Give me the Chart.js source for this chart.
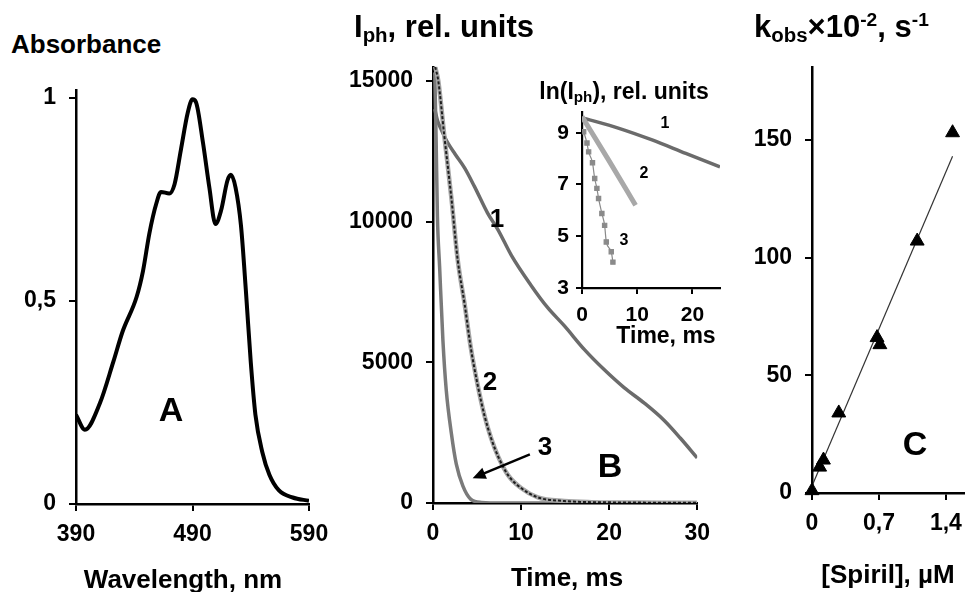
<!DOCTYPE html>
<html><head><meta charset="utf-8">
<script src="https://cdn.jsdelivr.net/npm/chart.js@4.4.1/dist/chart.umd.min.js"></script>
<style>
html,body{margin:0;padding:0}
body{width:965px;height:592px;overflow:hidden;background:#fff;position:relative;font-family:"Liberation Sans",Arial,sans-serif;font-weight:bold;color:#000}
canvas{position:absolute}
.t{position:absolute;white-space:nowrap;font-weight:bold;line-height:1}
sub{font-size:66%;vertical-align:-0.25em}
sup{font-size:62%;vertical-align:0.55em}
</style></head><body>
<canvas id="cA"></canvas>
<canvas id="cB"></canvas>
<canvas id="cI"></canvas>
<canvas id="cC"></canvas>
<script>
// ---------- DATA ----------
// Panel A: absorbance spectrum
const wavelength = [390, 397.7, 410.5, 422, 430, 442, 447.5, 453, 459, 463, 470, 474.6, 480, 486, 490, 493, 499, 504.5, 509.7, 514.5, 520, 523, 527, 531.6, 536, 540, 544, 550, 556, 564, 576, 590];
const absorbance = [0.22, 0.183, 0.248, 0.35, 0.425, 0.51, 0.574, 0.667, 0.741, 0.769, 0.765, 0.788, 0.872, 0.965, 0.997, 0.99, 0.89, 0.779, 0.69, 0.723, 0.797, 0.811, 0.779, 0.686, 0.518, 0.35, 0.22, 0.127, 0.072, 0.034, 0.016, 0.008];
const ticksAx = [390, 490, 590];
const ticksAy = [0, 0.5, 1];

// Panel B: phosphorescence decay
const time1 = [0.2, 0.5, 0.9, 1.5, 2.5, 3.6, 4.7, 6.2, 7.4, 8.9, 11.1, 13.0, 14.9, 17.2, 19.4, 21.7, 24.0, 26.2, 28.1, 30];
const iph1  = [14000, 13600, 13300, 12900, 12400, 11900, 11250, 10300, 9700, 8800, 7750, 6950, 6300, 5450, 4750, 4100, 3550, 2950, 2300, 1600];
const time2 = [0.25, 0.6, 1.3, 2.1, 2.8, 3.6, 4.3, 5.1, 5.85, 6.6, 7.4, 8.5, 10, 11.9, 14.9, 18, 22, 26, 30];
const iph2  = [15500, 15000, 13000, 10800, 8650, 7050, 5500, 4150, 3100, 2300, 1650, 1000, 530, 200, 70, 30, 20, 10, 10];
const time3 = [0.2, 0.35, 0.5, 0.75, 1.13, 1.5, 2.1, 2.64, 3.4, 4.3, 5.5, 8, 12, 20, 30];
const iph3  = [15300, 13000, 10200, 8400, 5750, 4030, 2440, 1390, 600, 130, 20, 0, 0, 0, 0];
const ticksBx = [0, 10, 20, 30];
const ticksBy = [0, 5000, 10000, 15000];
const arrowB = {from: [11.0, 1730], to: [4.5, 880]};

// Inset: ln(Iph)
const lnTime1 = [0, 6.7, 12.7, 18.8, 25];
const lnIph1  = [9.58, 9.17, 8.72, 8.2, 7.68];
const lnTime2 = [0, 4.8, 9.7];
const lnIph2  = [9.62, 7.95, 6.2];
const lnTime3 = [0.3, 0.9, 1.2, 1.9, 2.3, 2.7, 3.0, 3.6, 4.1, 4.4, 5.3, 5.6];
const lnIph3  = [9.04, 8.6, 8.26, 7.84, 7.23, 6.85, 6.46, 5.88, 5.42, 4.78, 4.4, 4.0];
const ticksIx = [0, 10, 20];
const ticksIy = [3, 5, 7, 9];

// Panel C: kobs vs [Spiril]
const spiril = [0, 0.08, 0.12, 0.28, 0.68, 0.71, 1.1, 1.47];
const kobs   = [1, 11, 14, 34, 66, 63, 107, 153];
const fitX = [0, 1.47];
const fitY = [3, 143];
const ticksCx = [0, 0.7, 1.4];
const ticksCy = [0, 50, 100, 150];

// ---------- HELPERS ----------
Chart.defaults.font.family = '"Liberation Sans", Arial, sans-serif';
Chart.defaults.font.weight = 'bold';
Chart.defaults.color = '#000';
const pts = (xs, ys) => xs.map((x, i) => ({x: x, y: ys[i]}));
const comma = v => String(v).replace('.', ',');
const plain = v => String(v);

function axis(min, max, tickVals, size, pad, fmt) {
  return {
    type: 'linear', min: min, max: max,
    afterBuildTicks: s => { s.ticks = tickVals.map(v => ({value: v})); },
    grid: {display: true, drawOnChartArea: false, drawTicks: true, tickLength: 7, color: '#000', lineWidth: 2},
    border: {display: true, color: '#000', width: 2.5},
    ticks: {font: {size: size, weight: 'bold'}, color: '#000', padding: pad, maxRotation: 0, autoSkip: false, callback: fmt || plain}
  };
}

function makeChart(id, box, area, datasets, xs, ys, plugins) {
  const cv = document.getElementById(id);
  cv.width = box.w; cv.height = box.h;
  cv.style.left = box.l + 'px'; cv.style.top = box.t + 'px';
  cv.style.width = box.w + 'px'; cv.style.height = box.h + 'px';
  const yW = area.left - box.l;
  const xH = box.t + box.h - area.bottom;
  xs.afterFit = s => { s.height = xH; };
  ys.afterFit = s => { s.width = yW; };
  return new Chart(cv, {
    type: 'scatter',
    data: {datasets: datasets},
    options: {
      responsive: false, animation: false, devicePixelRatio: 1,
      layout: {padding: {top: area.top - box.t, right: box.l + box.w - area.right, left: 0, bottom: 0}},
      plugins: {legend: {display: false}, tooltip: {enabled: false}, title: {display: false}},
      scales: {x: xs, y: ys},
      elements: {point: {radius: 0}}
    },
    plugins: plugins || []
  });
}

function line(data, color, width, extra) {
  return Object.assign({data: data, showLine: true, borderColor: color, backgroundColor: color,
    borderWidth: width, pointRadius: 0, tension: 0.3, cubicInterpolationMode: 'monotone'}, extra || {});
}

// ---------- PANEL A ----------
makeChart('cA', {l: 0, t: 60, w: 340, h: 532}, {left: 76, top: 90, right: 309, bottom: 504},
  [line(pts(wavelength, absorbance), '#000', 4)],
  axis(390, 590, ticksAx, 23, 10),
  axis(0, 1.02, ticksAy, 23, 13, comma));

// ---------- PANEL B ----------
const arrowPlugin = {
  id: 'arrowB',
  afterDatasetsDraw(chart) {
    const c = chart.ctx, sx = chart.scales.x, sy = chart.scales.y;
    const x1 = sx.getPixelForValue(arrowB.from[0]), y1 = sy.getPixelForValue(arrowB.from[1]);
    const x2 = sx.getPixelForValue(arrowB.to[0]), y2 = sy.getPixelForValue(arrowB.to[1]);
    const a = Math.atan2(y2 - y1, x2 - x1), L = 13, W = 6;
    c.save();
    c.strokeStyle = '#000'; c.fillStyle = '#000'; c.lineWidth = 2.4;
    c.beginPath(); c.moveTo(x1, y1);
    c.lineTo(x2 - Math.cos(a) * L * 0.8, y2 - Math.sin(a) * L * 0.8); c.stroke();
    c.beginPath(); c.moveTo(x2, y2);
    c.lineTo(x2 - L * Math.cos(a) + W * Math.sin(a), y2 - L * Math.sin(a) - W * Math.cos(a));
    c.lineTo(x2 - L * Math.cos(a) - W * Math.sin(a), y2 - L * Math.sin(a) + W * Math.cos(a));
    c.closePath(); c.fill();
    c.restore();
  }
};
makeChart('cB', {l: 340, t: 40, w: 380, h: 552}, {left: 433, top: 63, right: 698, bottom: 503},
  [
    line(pts(time2, iph2), '#1e1e1e', 2, {borderDash: [3, 2]}),
    line(pts(time2, iph2), '#a6a6a6', 4.5),
    line(pts(time3, iph3), '#7a7a7a', 3.5),
    line(pts(time1, iph1), '#6b6b6b', 3.5)
  ],
  axis(0, 30, ticksBx, 23, 10),
  axis(0, 15500, ticksBy, 23, 13),
  [arrowPlugin]);

// ---------- INSET ----------
const inAx = o => { o.grid.tickLength = 6; o.border.width = 2.2; return o; };
makeChart('cI', {l: 520, t: 60, w: 210, h: 290}, {left: 582, top: 112, right: 720, bottom: 288},
  [
    line(pts(lnTime3, lnIph3), '#8a8a8a', 1.2, {tension: 0, pointRadius: 3, pointStyle: 'rect', pointBackgroundColor: '#8a8a8a', pointBorderColor: '#8a8a8a'}),
    line(pts(lnTime2, lnIph2), '#a8a8a8', 5, {tension: 0}),
    line(pts(lnTime1, lnIph1), '#6b6b6b', 3.5, {tension: 0.3})
  ],
  inAx(axis(0, 25, ticksIx, 21, 9)),
  inAx(axis(3, 9.8, ticksIy, 21, 7)));

// ---------- PANEL C ----------
makeChart('cC', {l: 740, t: 40, w: 240, h: 552}, {left: 812, top: 64, right: 965, bottom: 493},
  [
    {data: pts(spiril, kobs), showLine: false, pointStyle: 'triangle', pointRadius: 8,
     pointBackgroundColor: '#000', pointBorderColor: '#000', pointBorderWidth: 1, clip: false},
    line(pts(fitX, fitY), '#333', 1.2, {tension: 0})
  ],
  axis(0, 1.6, ticksCx, 23, 10, comma),
  axis(0, 181, ticksCy, 23, 13));

// ---------- TEXT ----------
function lab(html, x, y, size, anchor) {
  const d = document.createElement('div');
  d.className = 't';
  d.innerHTML = html;
  d.style.left = x + 'px'; d.style.top = y + 'px'; d.style.fontSize = size + 'px';
  d.style.transform = anchor === 'l' ? 'translate(0,-50%)' : 'translate(-50%,-50%)';
  document.body.appendChild(d);
}
lab('Absorbance', 11, 44, 26, 'l');
lab('I<sub>ph</sub>, rel. units', 354, 28, 31, 'l');
lab('k<sub>obs</sub>×10<sup>-2</sup>, s<sup>-1</sup>', 754, 28, 31, 'l');
lab('Wavelength, nm', 183, 579, 26);
lab('Time, ms', 567, 577, 26);
lab('[Spiril], µM', 888, 574, 26);
lab('A', 171, 409, 34);
lab('B', 610, 465, 34);
lab('C', 915, 443, 34);
lab('1', 497, 218, 26);
lab('2', 490, 381, 26);
lab('3', 545, 446, 26);
lab('ln(I<sub>ph</sub>), rel. units', 624, 92, 23);
lab('Time, ms', 666, 335, 23);
lab('1', 665, 123, 16);
lab('2', 644, 173, 16);
lab('3', 624, 240, 16);
</script>
</body></html>
